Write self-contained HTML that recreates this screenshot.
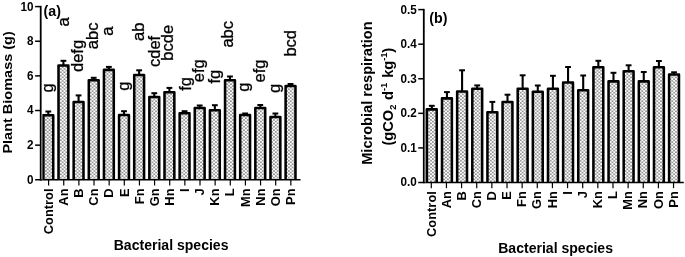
<!DOCTYPE html><html><head><meta charset="utf-8"><title>Figure</title><style>html,body{margin:0;padding:0;background:#fff}svg{display:block}text{font-family:"Liberation Sans", Arial, sans-serif;fill:#000}</style></head><body>
<svg width="685" height="257" viewBox="0 0 685 257">
<defs><pattern id="dots" width="3.74" height="3.4" patternUnits="userSpaceOnUse"><rect width="3.74" height="3.4" fill="#ffffff"/><circle cx="0.935" cy="0.850" r="0.74" fill="#2a2a2a"/><circle cx="2.805" cy="2.550" r="0.74" fill="#2a2a2a"/></pattern></defs>
<rect width="685" height="257" fill="#fff"/>
<path d="M48.30 115.00V111.50" stroke="#000" stroke-width="2.1" fill="none"/>
<rect x="45.40" y="110.50" width="5.80" height="2.0" fill="#000"/>
<rect x="43.37" y="115.28" width="9.85" height="64.53" fill="url(#dots)"/>
<path d="M43.37 179.80V115.28H53.23V179.80" fill="none" stroke="#000" stroke-width="2.55" stroke-linejoin="round"/>
<path d="M63.44 65.20V60.80" stroke="#000" stroke-width="2.1" fill="none"/>
<rect x="60.54" y="59.80" width="5.80" height="2.0" fill="#000"/>
<rect x="58.51" y="65.48" width="9.85" height="114.33" fill="url(#dots)"/>
<path d="M58.51 179.80V65.48H68.36V179.80" fill="none" stroke="#000" stroke-width="2.55" stroke-linejoin="round"/>
<path d="M78.58 101.70V95.40" stroke="#000" stroke-width="2.1" fill="none"/>
<rect x="75.68" y="94.40" width="5.80" height="2.0" fill="#000"/>
<rect x="73.66" y="101.98" width="9.85" height="77.83" fill="url(#dots)"/>
<path d="M73.66 179.80V101.98H83.50V179.80" fill="none" stroke="#000" stroke-width="2.55" stroke-linejoin="round"/>
<path d="M93.72 80.00V77.80" stroke="#000" stroke-width="2.1" fill="none"/>
<rect x="90.82" y="76.80" width="5.80" height="2.0" fill="#000"/>
<rect x="88.80" y="80.28" width="9.85" height="99.53" fill="url(#dots)"/>
<path d="M88.80 179.80V80.28H98.64V179.80" fill="none" stroke="#000" stroke-width="2.55" stroke-linejoin="round"/>
<path d="M108.86 69.60V66.90" stroke="#000" stroke-width="2.1" fill="none"/>
<rect x="105.96" y="65.90" width="5.80" height="2.0" fill="#000"/>
<rect x="103.94" y="69.88" width="9.85" height="109.93" fill="url(#dots)"/>
<path d="M103.94 179.80V69.88H113.78V179.80" fill="none" stroke="#000" stroke-width="2.55" stroke-linejoin="round"/>
<path d="M124.00 114.80V111.20" stroke="#000" stroke-width="2.1" fill="none"/>
<rect x="121.10" y="110.20" width="5.80" height="2.0" fill="#000"/>
<rect x="119.08" y="115.08" width="9.85" height="64.73" fill="url(#dots)"/>
<path d="M119.08 179.80V115.08H128.92V179.80" fill="none" stroke="#000" stroke-width="2.55" stroke-linejoin="round"/>
<path d="M139.14 74.80V70.30" stroke="#000" stroke-width="2.1" fill="none"/>
<rect x="136.24" y="69.30" width="5.80" height="2.0" fill="#000"/>
<rect x="134.22" y="75.08" width="9.85" height="104.73" fill="url(#dots)"/>
<path d="M134.22 179.80V75.08H144.06V179.80" fill="none" stroke="#000" stroke-width="2.55" stroke-linejoin="round"/>
<path d="M154.28 96.70V93.20" stroke="#000" stroke-width="2.1" fill="none"/>
<rect x="151.38" y="92.20" width="5.80" height="2.0" fill="#000"/>
<rect x="149.36" y="96.98" width="9.85" height="82.83" fill="url(#dots)"/>
<path d="M149.36 179.80V96.98H159.20V179.80" fill="none" stroke="#000" stroke-width="2.55" stroke-linejoin="round"/>
<path d="M169.42 92.00V87.90" stroke="#000" stroke-width="2.1" fill="none"/>
<rect x="166.52" y="86.90" width="5.80" height="2.0" fill="#000"/>
<rect x="164.50" y="92.28" width="9.85" height="87.53" fill="url(#dots)"/>
<path d="M164.50 179.80V92.28H174.34V179.80" fill="none" stroke="#000" stroke-width="2.55" stroke-linejoin="round"/>
<path d="M184.56 113.00V111.20" stroke="#000" stroke-width="2.1" fill="none"/>
<rect x="181.66" y="110.20" width="5.80" height="2.0" fill="#000"/>
<rect x="179.64" y="113.28" width="9.85" height="66.53" fill="url(#dots)"/>
<path d="M179.64 179.80V113.28H189.48V179.80" fill="none" stroke="#000" stroke-width="2.55" stroke-linejoin="round"/>
<path d="M199.70 107.70V105.50" stroke="#000" stroke-width="2.1" fill="none"/>
<rect x="196.80" y="104.50" width="5.80" height="2.0" fill="#000"/>
<rect x="194.78" y="107.98" width="9.85" height="71.83" fill="url(#dots)"/>
<path d="M194.78 179.80V107.98H204.62V179.80" fill="none" stroke="#000" stroke-width="2.55" stroke-linejoin="round"/>
<path d="M214.84 110.00V105.20" stroke="#000" stroke-width="2.1" fill="none"/>
<rect x="211.94" y="104.20" width="5.80" height="2.0" fill="#000"/>
<rect x="209.92" y="110.28" width="9.85" height="69.53" fill="url(#dots)"/>
<path d="M209.92 179.80V110.28H219.77V179.80" fill="none" stroke="#000" stroke-width="2.55" stroke-linejoin="round"/>
<path d="M229.98 80.00V76.50" stroke="#000" stroke-width="2.1" fill="none"/>
<rect x="227.08" y="75.50" width="5.80" height="2.0" fill="#000"/>
<rect x="225.06" y="80.28" width="9.85" height="99.53" fill="url(#dots)"/>
<path d="M225.06 179.80V80.28H234.91V179.80" fill="none" stroke="#000" stroke-width="2.55" stroke-linejoin="round"/>
<path d="M245.12 114.70V113.50" stroke="#000" stroke-width="2.1" fill="none"/>
<rect x="242.22" y="112.50" width="5.80" height="2.0" fill="#000"/>
<rect x="240.20" y="114.98" width="9.85" height="64.83" fill="url(#dots)"/>
<path d="M240.20 179.80V114.98H250.04V179.80" fill="none" stroke="#000" stroke-width="2.55" stroke-linejoin="round"/>
<path d="M260.26 107.70V105.00" stroke="#000" stroke-width="2.1" fill="none"/>
<rect x="257.36" y="104.00" width="5.80" height="2.0" fill="#000"/>
<rect x="255.34" y="107.98" width="9.85" height="71.83" fill="url(#dots)"/>
<path d="M255.34 179.80V107.98H265.19V179.80" fill="none" stroke="#000" stroke-width="2.55" stroke-linejoin="round"/>
<path d="M275.40 116.80V113.50" stroke="#000" stroke-width="2.1" fill="none"/>
<rect x="272.50" y="112.50" width="5.80" height="2.0" fill="#000"/>
<rect x="270.48" y="117.08" width="9.85" height="62.73" fill="url(#dots)"/>
<path d="M270.48 179.80V117.08H280.33V179.80" fill="none" stroke="#000" stroke-width="2.55" stroke-linejoin="round"/>
<path d="M290.54 85.70V84.00" stroke="#000" stroke-width="2.1" fill="none"/>
<rect x="287.64" y="83.00" width="5.80" height="2.0" fill="#000"/>
<rect x="285.62" y="85.98" width="9.85" height="93.83" fill="url(#dots)"/>
<path d="M285.62 179.80V85.98H295.47V179.80" fill="none" stroke="#000" stroke-width="2.55" stroke-linejoin="round"/>
<path d="M40.70 5.85V180.55" stroke="#000" stroke-width="1.8" fill="none"/>
<path d="M35.10 179.80H300.50" stroke="#000" stroke-width="1.5" fill="none"/>
<text transform="translate(33.60 183.70) scale(0.9 1)" text-anchor="end" font-size="13.0" font-weight="bold">0</text>
<path d="M35.10 145.16H40.70" stroke="#000" stroke-width="1.5"/>
<text transform="translate(33.60 149.06) scale(0.9 1)" text-anchor="end" font-size="13.0" font-weight="bold">2</text>
<path d="M35.10 110.52H40.70" stroke="#000" stroke-width="1.5"/>
<text transform="translate(33.60 114.42) scale(0.9 1)" text-anchor="end" font-size="13.0" font-weight="bold">4</text>
<path d="M35.10 75.88H40.70" stroke="#000" stroke-width="1.5"/>
<text transform="translate(33.60 79.78) scale(0.9 1)" text-anchor="end" font-size="13.0" font-weight="bold">6</text>
<path d="M35.10 41.24H40.70" stroke="#000" stroke-width="1.5"/>
<text transform="translate(33.60 45.14) scale(0.9 1)" text-anchor="end" font-size="13.0" font-weight="bold">8</text>
<path d="M35.10 6.60H40.70" stroke="#000" stroke-width="1.5"/>
<text transform="translate(33.60 10.50) scale(0.9 1)" text-anchor="end" font-size="13.0" font-weight="bold">10</text>
<path d="M48.60 179.80V185.50" stroke="#000" stroke-width="1.2"/>
<text transform="translate(52.80 188.45) rotate(-90)" text-anchor="end" font-size="12.9" font-weight="bold">Control</text>
<path d="M63.74 179.80V185.50" stroke="#000" stroke-width="1.2"/>
<text transform="translate(67.94 188.45) rotate(-90)" text-anchor="end" font-size="12.9" font-weight="bold">An</text>
<path d="M78.88 179.80V185.50" stroke="#000" stroke-width="1.2"/>
<text transform="translate(83.08 188.45) rotate(-90)" text-anchor="end" font-size="12.9" font-weight="bold">B</text>
<path d="M94.02 179.80V185.50" stroke="#000" stroke-width="1.2"/>
<text transform="translate(98.22 188.45) rotate(-90)" text-anchor="end" font-size="12.9" font-weight="bold">Cn</text>
<path d="M109.16 179.80V185.50" stroke="#000" stroke-width="1.2"/>
<text transform="translate(113.36 188.45) rotate(-90)" text-anchor="end" font-size="12.9" font-weight="bold">D</text>
<path d="M124.30 179.80V185.50" stroke="#000" stroke-width="1.2"/>
<text transform="translate(128.50 188.45) rotate(-90)" text-anchor="end" font-size="12.9" font-weight="bold">E</text>
<path d="M139.44 179.80V185.50" stroke="#000" stroke-width="1.2"/>
<text transform="translate(143.64 188.45) rotate(-90)" text-anchor="end" font-size="12.9" font-weight="bold">Fn</text>
<path d="M154.58 179.80V185.50" stroke="#000" stroke-width="1.2"/>
<text transform="translate(158.78 188.45) rotate(-90)" text-anchor="end" font-size="12.9" font-weight="bold">Gn</text>
<path d="M169.72 179.80V185.50" stroke="#000" stroke-width="1.2"/>
<text transform="translate(173.92 188.45) rotate(-90)" text-anchor="end" font-size="12.9" font-weight="bold">Hn</text>
<path d="M184.86 179.80V185.50" stroke="#000" stroke-width="1.2"/>
<text transform="translate(189.06 188.45) rotate(-90)" text-anchor="end" font-size="12.9" font-weight="bold">I</text>
<path d="M200.00 179.80V185.50" stroke="#000" stroke-width="1.2"/>
<text transform="translate(204.20 188.45) rotate(-90)" text-anchor="end" font-size="12.9" font-weight="bold">J</text>
<path d="M215.14 179.80V185.50" stroke="#000" stroke-width="1.2"/>
<text transform="translate(219.34 188.45) rotate(-90)" text-anchor="end" font-size="12.9" font-weight="bold">Kn</text>
<path d="M230.28 179.80V185.50" stroke="#000" stroke-width="1.2"/>
<text transform="translate(234.48 188.45) rotate(-90)" text-anchor="end" font-size="12.9" font-weight="bold">L</text>
<path d="M245.42 179.80V185.50" stroke="#000" stroke-width="1.2"/>
<text transform="translate(249.62 188.45) rotate(-90)" text-anchor="end" font-size="12.9" font-weight="bold">Mn</text>
<path d="M260.56 179.80V185.50" stroke="#000" stroke-width="1.2"/>
<text transform="translate(264.76 188.45) rotate(-90)" text-anchor="end" font-size="12.9" font-weight="bold">Nn</text>
<path d="M275.70 179.80V185.50" stroke="#000" stroke-width="1.2"/>
<text transform="translate(279.90 188.45) rotate(-90)" text-anchor="end" font-size="12.9" font-weight="bold">On</text>
<path d="M290.84 179.80V185.50" stroke="#000" stroke-width="1.2"/>
<text transform="translate(295.04 188.45) rotate(-90)" text-anchor="end" font-size="12.9" font-weight="bold">Pn</text>
<path d="M431.80 109.10V105.80" stroke="#000" stroke-width="2.1" fill="none"/>
<rect x="428.90" y="104.80" width="5.80" height="2.0" fill="#000"/>
<rect x="426.88" y="109.38" width="9.85" height="73.12" fill="url(#dots)"/>
<path d="M426.88 182.50V109.38H436.73V182.50" fill="none" stroke="#000" stroke-width="2.55" stroke-linejoin="round"/>
<path d="M446.94 98.10V92.10" stroke="#000" stroke-width="2.1" fill="none"/>
<rect x="444.04" y="91.10" width="5.80" height="2.0" fill="#000"/>
<rect x="442.01" y="98.38" width="9.85" height="84.12" fill="url(#dots)"/>
<path d="M442.01 182.50V98.38H451.87V182.50" fill="none" stroke="#000" stroke-width="2.55" stroke-linejoin="round"/>
<path d="M462.08 91.20V70.30" stroke="#000" stroke-width="2.1" fill="none"/>
<rect x="459.18" y="69.30" width="5.80" height="2.0" fill="#000"/>
<rect x="457.16" y="91.48" width="9.85" height="91.02" fill="url(#dots)"/>
<path d="M457.16 182.50V91.48H467.01V182.50" fill="none" stroke="#000" stroke-width="2.55" stroke-linejoin="round"/>
<path d="M477.22 88.40V85.40" stroke="#000" stroke-width="2.1" fill="none"/>
<rect x="474.32" y="84.40" width="5.80" height="2.0" fill="#000"/>
<rect x="472.30" y="88.68" width="9.85" height="93.82" fill="url(#dots)"/>
<path d="M472.30 182.50V88.68H482.15V182.50" fill="none" stroke="#000" stroke-width="2.55" stroke-linejoin="round"/>
<path d="M492.36 112.00V101.90" stroke="#000" stroke-width="2.1" fill="none"/>
<rect x="489.46" y="100.90" width="5.80" height="2.0" fill="#000"/>
<rect x="487.44" y="112.28" width="9.85" height="70.22" fill="url(#dots)"/>
<path d="M487.44 182.50V112.28H497.29V182.50" fill="none" stroke="#000" stroke-width="2.55" stroke-linejoin="round"/>
<path d="M507.50 101.70V94.70" stroke="#000" stroke-width="2.1" fill="none"/>
<rect x="504.60" y="93.70" width="5.80" height="2.0" fill="#000"/>
<rect x="502.57" y="101.98" width="9.85" height="80.52" fill="url(#dots)"/>
<path d="M502.57 182.50V101.98H512.43V182.50" fill="none" stroke="#000" stroke-width="2.55" stroke-linejoin="round"/>
<path d="M522.64 88.40V75.30" stroke="#000" stroke-width="2.1" fill="none"/>
<rect x="519.74" y="74.30" width="5.80" height="2.0" fill="#000"/>
<rect x="517.71" y="88.68" width="9.85" height="93.82" fill="url(#dots)"/>
<path d="M517.71 182.50V88.68H527.57V182.50" fill="none" stroke="#000" stroke-width="2.55" stroke-linejoin="round"/>
<path d="M537.78 91.40V85.50" stroke="#000" stroke-width="2.1" fill="none"/>
<rect x="534.88" y="84.50" width="5.80" height="2.0" fill="#000"/>
<rect x="532.85" y="91.68" width="9.85" height="90.82" fill="url(#dots)"/>
<path d="M532.85 182.50V91.68H542.71V182.50" fill="none" stroke="#000" stroke-width="2.55" stroke-linejoin="round"/>
<path d="M552.92 88.40V75.80" stroke="#000" stroke-width="2.1" fill="none"/>
<rect x="550.02" y="74.80" width="5.80" height="2.0" fill="#000"/>
<rect x="548.00" y="88.68" width="9.85" height="93.82" fill="url(#dots)"/>
<path d="M548.00 182.50V88.68H557.85V182.50" fill="none" stroke="#000" stroke-width="2.55" stroke-linejoin="round"/>
<path d="M568.06 82.30V67.00" stroke="#000" stroke-width="2.1" fill="none"/>
<rect x="565.16" y="66.00" width="5.80" height="2.0" fill="#000"/>
<rect x="563.13" y="82.58" width="9.85" height="99.92" fill="url(#dots)"/>
<path d="M563.13 182.50V82.58H572.99V182.50" fill="none" stroke="#000" stroke-width="2.55" stroke-linejoin="round"/>
<path d="M583.20 89.90V75.50" stroke="#000" stroke-width="2.1" fill="none"/>
<rect x="580.30" y="74.50" width="5.80" height="2.0" fill="#000"/>
<rect x="578.27" y="90.18" width="9.85" height="92.32" fill="url(#dots)"/>
<path d="M578.27 182.50V90.18H588.13V182.50" fill="none" stroke="#000" stroke-width="2.55" stroke-linejoin="round"/>
<path d="M598.34 67.00V60.80" stroke="#000" stroke-width="2.1" fill="none"/>
<rect x="595.44" y="59.80" width="5.80" height="2.0" fill="#000"/>
<rect x="593.41" y="67.28" width="9.85" height="115.22" fill="url(#dots)"/>
<path d="M593.41 182.50V67.28H603.27V182.50" fill="none" stroke="#000" stroke-width="2.55" stroke-linejoin="round"/>
<path d="M613.48 81.10V72.80" stroke="#000" stroke-width="2.1" fill="none"/>
<rect x="610.58" y="71.80" width="5.80" height="2.0" fill="#000"/>
<rect x="608.55" y="81.38" width="9.85" height="101.12" fill="url(#dots)"/>
<path d="M608.55 182.50V81.38H618.41V182.50" fill="none" stroke="#000" stroke-width="2.55" stroke-linejoin="round"/>
<path d="M628.62 71.00V65.30" stroke="#000" stroke-width="2.1" fill="none"/>
<rect x="625.72" y="64.30" width="5.80" height="2.0" fill="#000"/>
<rect x="623.69" y="71.28" width="9.85" height="111.22" fill="url(#dots)"/>
<path d="M623.69 182.50V71.28H633.55V182.50" fill="none" stroke="#000" stroke-width="2.55" stroke-linejoin="round"/>
<path d="M643.76 81.10V72.00" stroke="#000" stroke-width="2.1" fill="none"/>
<rect x="640.86" y="71.00" width="5.80" height="2.0" fill="#000"/>
<rect x="638.83" y="81.38" width="9.85" height="101.12" fill="url(#dots)"/>
<path d="M638.83 182.50V81.38H648.69V182.50" fill="none" stroke="#000" stroke-width="2.55" stroke-linejoin="round"/>
<path d="M658.90 67.00V61.00" stroke="#000" stroke-width="2.1" fill="none"/>
<rect x="656.00" y="60.00" width="5.80" height="2.0" fill="#000"/>
<rect x="653.98" y="67.28" width="9.85" height="115.22" fill="url(#dots)"/>
<path d="M653.98 182.50V67.28H663.83V182.50" fill="none" stroke="#000" stroke-width="2.55" stroke-linejoin="round"/>
<path d="M674.04 74.30V72.30" stroke="#000" stroke-width="2.1" fill="none"/>
<rect x="671.14" y="71.30" width="5.80" height="2.0" fill="#000"/>
<rect x="669.11" y="74.58" width="9.85" height="107.92" fill="url(#dots)"/>
<path d="M669.11 182.50V74.58H678.97V182.50" fill="none" stroke="#000" stroke-width="2.55" stroke-linejoin="round"/>
<path d="M423.80 8.85V183.25" stroke="#000" stroke-width="1.8" fill="none"/>
<path d="M418.20 182.50H683.80" stroke="#000" stroke-width="1.5" fill="none"/>
<text transform="translate(416.70 186.40) scale(0.9 1)" text-anchor="end" font-size="13.0" font-weight="bold">0.0</text>
<path d="M418.20 147.92H423.80" stroke="#000" stroke-width="1.5"/>
<text transform="translate(416.70 151.82) scale(0.9 1)" text-anchor="end" font-size="13.0" font-weight="bold">0.1</text>
<path d="M418.20 113.34H423.80" stroke="#000" stroke-width="1.5"/>
<text transform="translate(416.70 117.24) scale(0.9 1)" text-anchor="end" font-size="13.0" font-weight="bold">0.2</text>
<path d="M418.20 78.76H423.80" stroke="#000" stroke-width="1.5"/>
<text transform="translate(416.70 82.66) scale(0.9 1)" text-anchor="end" font-size="13.0" font-weight="bold">0.3</text>
<path d="M418.20 44.18H423.80" stroke="#000" stroke-width="1.5"/>
<text transform="translate(416.70 48.08) scale(0.9 1)" text-anchor="end" font-size="13.0" font-weight="bold">0.4</text>
<path d="M418.20 9.60H423.80" stroke="#000" stroke-width="1.5"/>
<text transform="translate(416.70 13.50) scale(0.9 1)" text-anchor="end" font-size="13.0" font-weight="bold">0.5</text>
<path d="M431.30 182.50V188.20" stroke="#000" stroke-width="1.2"/>
<text transform="translate(435.50 191.15) rotate(-90)" text-anchor="end" font-size="12.9" font-weight="bold">Control</text>
<path d="M446.44 182.50V188.20" stroke="#000" stroke-width="1.2"/>
<text transform="translate(450.64 191.15) rotate(-90)" text-anchor="end" font-size="12.9" font-weight="bold">An</text>
<path d="M461.58 182.50V188.20" stroke="#000" stroke-width="1.2"/>
<text transform="translate(465.78 191.15) rotate(-90)" text-anchor="end" font-size="12.9" font-weight="bold">B</text>
<path d="M476.72 182.50V188.20" stroke="#000" stroke-width="1.2"/>
<text transform="translate(480.92 191.15) rotate(-90)" text-anchor="end" font-size="12.9" font-weight="bold">Cn</text>
<path d="M491.86 182.50V188.20" stroke="#000" stroke-width="1.2"/>
<text transform="translate(496.06 191.15) rotate(-90)" text-anchor="end" font-size="12.9" font-weight="bold">D</text>
<path d="M507.00 182.50V188.20" stroke="#000" stroke-width="1.2"/>
<text transform="translate(511.20 191.15) rotate(-90)" text-anchor="end" font-size="12.9" font-weight="bold">E</text>
<path d="M522.14 182.50V188.20" stroke="#000" stroke-width="1.2"/>
<text transform="translate(526.34 191.15) rotate(-90)" text-anchor="end" font-size="12.9" font-weight="bold">Fn</text>
<path d="M537.28 182.50V188.20" stroke="#000" stroke-width="1.2"/>
<text transform="translate(541.48 191.15) rotate(-90)" text-anchor="end" font-size="12.9" font-weight="bold">Gn</text>
<path d="M552.42 182.50V188.20" stroke="#000" stroke-width="1.2"/>
<text transform="translate(556.62 191.15) rotate(-90)" text-anchor="end" font-size="12.9" font-weight="bold">Hn</text>
<path d="M567.56 182.50V188.20" stroke="#000" stroke-width="1.2"/>
<text transform="translate(571.76 191.15) rotate(-90)" text-anchor="end" font-size="12.9" font-weight="bold">I</text>
<path d="M582.70 182.50V188.20" stroke="#000" stroke-width="1.2"/>
<text transform="translate(586.90 191.15) rotate(-90)" text-anchor="end" font-size="12.9" font-weight="bold">J</text>
<path d="M597.84 182.50V188.20" stroke="#000" stroke-width="1.2"/>
<text transform="translate(602.04 191.15) rotate(-90)" text-anchor="end" font-size="12.9" font-weight="bold">Kn</text>
<path d="M612.98 182.50V188.20" stroke="#000" stroke-width="1.2"/>
<text transform="translate(617.18 191.15) rotate(-90)" text-anchor="end" font-size="12.9" font-weight="bold">L</text>
<path d="M628.12 182.50V188.20" stroke="#000" stroke-width="1.2"/>
<text transform="translate(632.32 191.15) rotate(-90)" text-anchor="end" font-size="12.9" font-weight="bold">Mn</text>
<path d="M643.26 182.50V188.20" stroke="#000" stroke-width="1.2"/>
<text transform="translate(647.46 191.15) rotate(-90)" text-anchor="end" font-size="12.9" font-weight="bold">Nn</text>
<path d="M658.40 182.50V188.20" stroke="#000" stroke-width="1.2"/>
<text transform="translate(662.60 191.15) rotate(-90)" text-anchor="end" font-size="12.9" font-weight="bold">On</text>
<path d="M673.54 182.50V188.20" stroke="#000" stroke-width="1.2"/>
<text transform="translate(677.74 191.15) rotate(-90)" text-anchor="end" font-size="12.9" font-weight="bold">Pn</text>
<path d="M425.25 109.10V182.50" stroke="#8a8a8a" stroke-width="1.0"/>
<path d="M42.1 115.00V179.80" stroke="#8a8a8a" stroke-width="0.9"/>
<text transform="translate(52.50 92.50) rotate(-90)" font-size="16.5" stroke="#000" stroke-width="0.3">g</text>
<text transform="translate(69.00 26.60) rotate(-90)" font-size="16.5" stroke="#000" stroke-width="0.3">a</text>
<text transform="translate(83.30 72.00) rotate(-90)" font-size="16.5" stroke="#000" stroke-width="0.3">defg</text>
<text transform="translate(98.00 49.20) rotate(-90)" font-size="16.5" stroke="#000" stroke-width="0.3">abc</text>
<text transform="translate(112.60 35.70) rotate(-90)" font-size="16.5" stroke="#000" stroke-width="0.3">a</text>
<text transform="translate(128.90 90.80) rotate(-90)" font-size="16.5" stroke="#000" stroke-width="0.3">g</text>
<text transform="translate(143.70 40.90) rotate(-90)" font-size="16.5" stroke="#000" stroke-width="0.3">ab</text>
<text transform="translate(159.80 67.00) rotate(-90)" font-size="16.5" stroke="#000" stroke-width="0.3">cdef</text>
<text transform="translate(173.10 60.70) rotate(-90)" font-size="16.5" stroke="#000" stroke-width="0.3">bcde</text>
<text transform="translate(191.30 90.80) rotate(-90)" font-size="16.5" stroke="#000" stroke-width="0.3">fg</text>
<text transform="translate(203.80 82.20) rotate(-90)" font-size="16.5" stroke="#000" stroke-width="0.3">efg</text>
<text transform="translate(219.60 83.50) rotate(-90)" font-size="16.5" stroke="#000" stroke-width="0.3">fg</text>
<text transform="translate(233.40 47.60) rotate(-90)" font-size="16.5" stroke="#000" stroke-width="0.3">abc</text>
<text transform="translate(248.60 91.70) rotate(-90)" font-size="16.5" stroke="#000" stroke-width="0.3">g</text>
<text transform="translate(265.00 82.50) rotate(-90)" font-size="16.5" stroke="#000" stroke-width="0.3">efg</text>
<text transform="translate(280.10 93.00) rotate(-90)" font-size="16.5" stroke="#000" stroke-width="0.3">g</text>
<text transform="translate(295.80 56.60) rotate(-90)" font-size="16.5" stroke="#000" stroke-width="0.3">bcd</text>
<text x="43.6" y="15.6" font-size="14.2" font-weight="bold">(a)</text>
<text x="429.3" y="22.6" font-size="14.2" font-weight="bold">(b)</text>
<text x="171.1" y="249.7" text-anchor="middle" font-size="14.05" font-weight="bold">Bacterial species</text>
<text x="555.6" y="252.8" text-anchor="middle" font-size="14.05" font-weight="bold">Bacterial species</text>
<text transform="translate(11.8 92.4) rotate(-90) scale(1 0.92)" text-anchor="middle" font-size="14.5" font-weight="bold">Plant Biomass (g)</text>
<text transform="translate(371.7 93.1) rotate(-90) scale(1 0.94)" text-anchor="middle" font-size="14.6" font-weight="bold">Microbial respiration</text>
<text transform="translate(392.7 145.5) rotate(-90)" font-size="14.6" font-weight="bold">(gCO<tspan font-size="9.4" dy="3.5">2</tspan><tspan dy="-3.5" dx="0.6"> d</tspan><tspan font-size="9.4" dy="-5.7">-1</tspan><tspan dy="5.7" dx="0.8"> kg</tspan><tspan font-size="9.4" dy="-5.7">-1</tspan><tspan dy="5.7" dx="-0.4">)</tspan></text>
</svg></body></html>
